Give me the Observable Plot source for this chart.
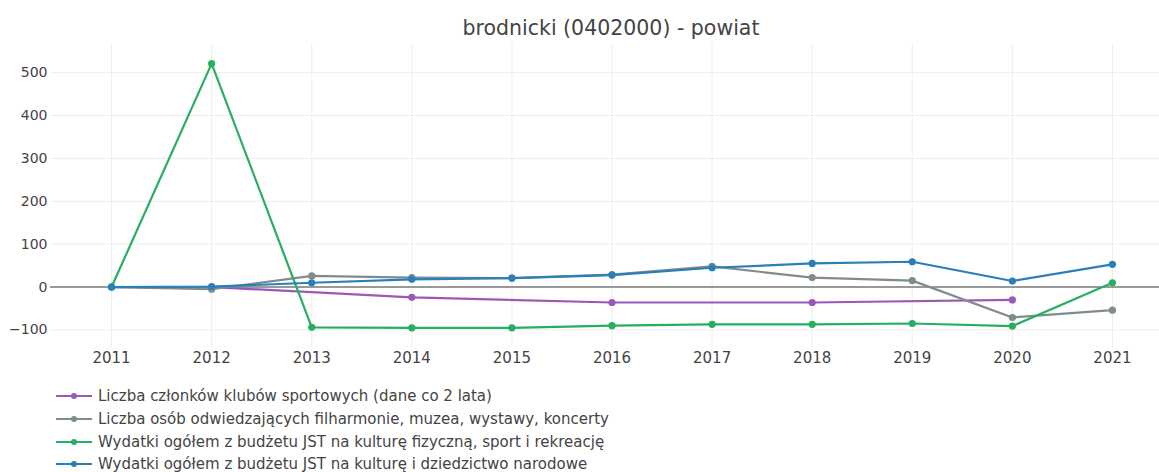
<!DOCTYPE html>
<html>
<head>
<meta charset="utf-8">
<script src="https://cdn.jsdelivr.net/npm/d3@7"></script>
<script src="https://cdn.jsdelivr.net/npm/@observablehq/plot@0.6"></script>
<style>
  body { margin: 0; background: #fff; font-family: "DejaVu Sans", Verdana, sans-serif; }
  #wrap { position: relative; width: 1159px; height: 472px; overflow: hidden; }
  #title { position: absolute; left: 0; top: 15px; width: 1222px; text-align: center; font-size: 20.5px; color: #444; line-height: 26px; }
  #chart { position: absolute; left: 0; top: 0; }
  #legend { position: absolute; left: 56px; top: 385px; }
  .item { height: 22.7px; display: flex; align-items: center; font-size: 15px; color: #444; }
  .item svg { margin-right: 6px; }
</style>
</head>
<body>
<div id="wrap">
  <div id="chart"></div>
  <div id="title">brodnicki (0402000) - powiat</div>
  <div id="legend"></div>
</div>
<script>
const years = [2011, 2012, 2013, 2014, 2015, 2016, 2017, 2018, 2019, 2020, 2021];
const seriesNames = [
  "Liczba członków klubów sportowych (dane co 2 lata)",
  "Liczba osób odwiedzających filharmonie, muzea, wystawy, koncerty",
  "Wydatki ogółem z budżetu JST na kulturę fizyczną, sport i rekreację",
  "Wydatki ogółem z budżetu JST na kulturę i dziedzictwo narodowe"
];
const seriesColors = ["#9b59b6", "#7f8c8d", "#27ae60", "#2980b9"];

const clubYears = [2012, 2014, 2016, 2018, 2020];
const clubValues = [0, -24, -36, -36, -30];
const visitorsValues = [0, -5, 26, 22, 21, 29, 48, 22, 15, -71, -54];
const sportValues = [0, 521, -94, -95, -95, -90, -87, -87, -85, -91, 10];
const cultureValues = [0, 1, 10, 18, 21, 28, 45, 55, 59, 14, 53];

const yTicks = [-100, 0, 100, 200, 300, 400, 500];

const data = [
  ...clubYears.map((y, i) => ({series: seriesNames[0], year: y, value: clubValues[i]})),
  ...years.map((y, i) => ({series: seriesNames[1], year: y, value: visitorsValues[i]})),
  ...years.map((y, i) => ({series: seriesNames[2], year: y, value: sportValues[i]})),
  ...years.map((y, i) => ({series: seriesNames[3], year: y, value: cultureValues[i]}))
];

const chart = Plot.plot({
  width: 1159,
  height: 380,
  marginTop: 43,
  marginBottom: 33,
  marginLeft: 50,
  marginRight: 0,
  style: {fontFamily: "DejaVu Sans, Verdana, sans-serif", fontSize: "14px", color: "#444", background: "transparent"},
  x: {domain: [2010.39, 2021.47], ticks: years, tickFormat: d => String(d), tickSize: 0, tickPadding: 5, label: null},
  y: {domain: [-141, 568], ticks: yTicks, tickSize: 0, tickPadding: 3, label: null, tickFormat: d => d < 0 ? "\u2212" + Math.abs(d) : String(d)},
  color: {domain: seriesNames, range: seriesColors},
  marks: [
    Plot.gridX(years, {stroke: "#eee", strokeOpacity: 1, strokeWidth: 1}),
    Plot.gridY(yTicks, {stroke: "#eee", strokeOpacity: 1, strokeWidth: 1}),
    Plot.ruleY([0], {stroke: "#999", strokeWidth: 2}),
    Plot.axisX({ticks: years, tickFormat: d => String(d), tickSize: 0, tickPadding: 5, fontSize: 15, label: null}),
    Plot.axisY({ticks: yTicks, tickSize: 0, tickPadding: 3, fontSize: 14, label: null, tickFormat: d => d < 0 ? "\u2212" + Math.abs(d) : String(d)}),
    Plot.line(data, {x: "year", y: "value", z: "series", stroke: "series", strokeWidth: 2.2}),
    Plot.dot(data, {x: "year", y: "value", fill: "series", r: 3.6})
  ]
});
document.getElementById("chart").appendChild(chart);

const legend = document.getElementById("legend");
seriesNames.forEach((name, i) => {
  const div = document.createElement("div");
  div.className = "item";
  div.innerHTML = `<svg width="36" height="10"><line x1="0" x2="36" y1="5" y2="5" stroke="${seriesColors[i]}" stroke-width="2"/><circle cx="18" cy="5" r="3" fill="${seriesColors[i]}"/></svg><span>${name}</span>`;
  legend.appendChild(div);
});
</script>
</body>
</html>
